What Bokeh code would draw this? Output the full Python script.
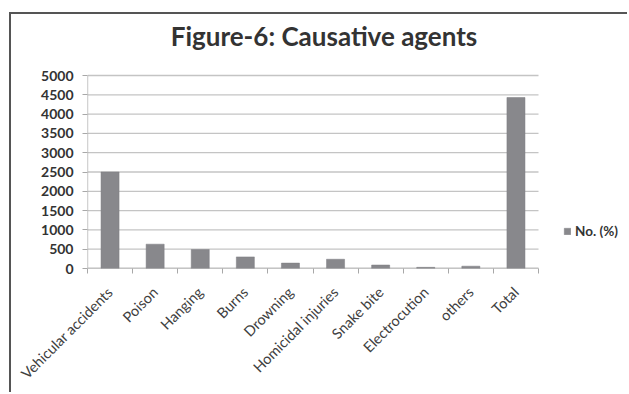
from bokeh.plotting import figure
from bokeh.models import Range1d, FixedTicker, Legend, LegendItem, Label
from bokeh.embed import file_html
from bokeh.resources import INLINE

# Causative agents and their counts
categories = [
    "Vehicular accidents", "Poison", "Hanging", "Burns", "Drowning",
    "Homicidal injuries", "Snake bite", "Electrocution", "others", "Total",
]
counts = [2500, 630, 490, 300, 140, 240, 90, 30, 60, 4430]
y_ticks = [0, 500, 1000, 1500, 2000, 2500, 3000, 3500, 4000, 4500, 5000]
series_name = "No. (%)"
title_text = "Figure-6: Causative agents"

n = len(categories)
y_max = y_ticks[-1]
# bar centres sit in the middle of each category slot, tick marks on slot edges
centres = [i + 0.5 for i in range(n)]
edges = [i for i in range(n + 1)]

# the frame runs on past the bar area: to the right for the legend,
# upwards for the heading
bars_w_px, frame_w_px = 451, 537
bars_h_px, frame_h_px, title_px = 193, 246, 233
x_end = n * frame_w_px / bars_w_px
y_end = y_max * frame_h_px / bars_h_px
y_title = y_max * title_px / bars_h_px

p = figure(
    width=618, height=380,
    x_range=Range1d(0, x_end), y_range=Range1d(0, y_end),
    output_backend="svg", toolbar_location=None,
    min_border_left=76, min_border_right=5,
    min_border_top=8, min_border_bottom=126,
    margin=(12, 0, 0, 9),
    styles={"border-top": "2px solid #555555", "border-left": "2px solid #555555"},
    background_fill_color="white", border_fill_color="white",
)
p.outline_line_color = None

# horizontal grid lines and both axis lines, limited to the bar area
p.segment(x0=[0] * len(y_ticks), x1=[n] * len(y_ticks), y0=y_ticks, y1=y_ticks,
          line_color="#c4c4c4", line_width=1.3)
p.segment(x0=[0, 0], x1=[n, 0], y0=[0, 0], y1=[0, y_max],
          line_color="#a8a8a8", line_width=1.3)

bars = p.vbar(x=centres, top=counts, width=0.4, fill_color="#88888c",
              line_color="#7c7c80", line_width=0.5)

# heading
p.add_layout(Label(
    x=n / 2, y=y_title, x_offset=11, text=title_text,
    text_align="center", text_baseline="middle",
    text_font="Lato", text_font_style="bold", text_font_size="26px",
    text_color="#333333",
))

# y axis
p.yaxis.ticker = FixedTicker(ticks=y_ticks)
p.yaxis.axis_line_color = None
p.yaxis.major_tick_line_color = "#a8a8a8"
p.yaxis.major_tick_out = 5
p.yaxis.major_tick_in = 0
p.yaxis.minor_tick_line_color = None
p.yaxis.major_label_text_font = "Lato"
p.yaxis.major_label_text_font_style = "bold"
p.yaxis.major_label_text_font_size = "14px"
p.yaxis.major_label_text_color = "#333333"
p.yaxis.major_label_standoff = 9

# x axis: slanted names under the bars, tick marks at category edges
p.xaxis.ticker = FixedTicker(ticks=centres, minor_ticks=edges)
p.xaxis.major_label_overrides = {x: name for x, name in zip(centres, categories)}
p.xaxis.major_tick_line_color = None
p.xaxis.minor_tick_line_color = "#a8a8a8"
p.xaxis.minor_tick_out = 5
p.xaxis.minor_tick_in = 0
p.xaxis.axis_line_color = None
p.xaxis.major_label_orientation = 0.785398
p.xaxis.major_label_text_font = "Lato"
p.xaxis.major_label_text_font_size = "14.5px"
p.xaxis.major_label_text_color = "#404040"
p.xaxis.major_label_standoff = 15

p.xgrid.grid_line_color = None
p.ygrid.grid_line_color = None

legend = Legend(
    items=[LegendItem(label=series_name, renderers=[bars])],
    location=(476, 29), padding=0, margin=0, spacing=0,
    glyph_width=8, glyph_height=8, label_standoff=4, label_height=14,
    label_text_font="Lato", label_text_font_style="bold",
    label_text_font_size="13.5px", label_text_color="#333333",
    border_line_color=None, background_fill_alpha=0,
)
p.add_layout(legend, "center")

open("out.html", "w").write(file_html(p, INLINE))
